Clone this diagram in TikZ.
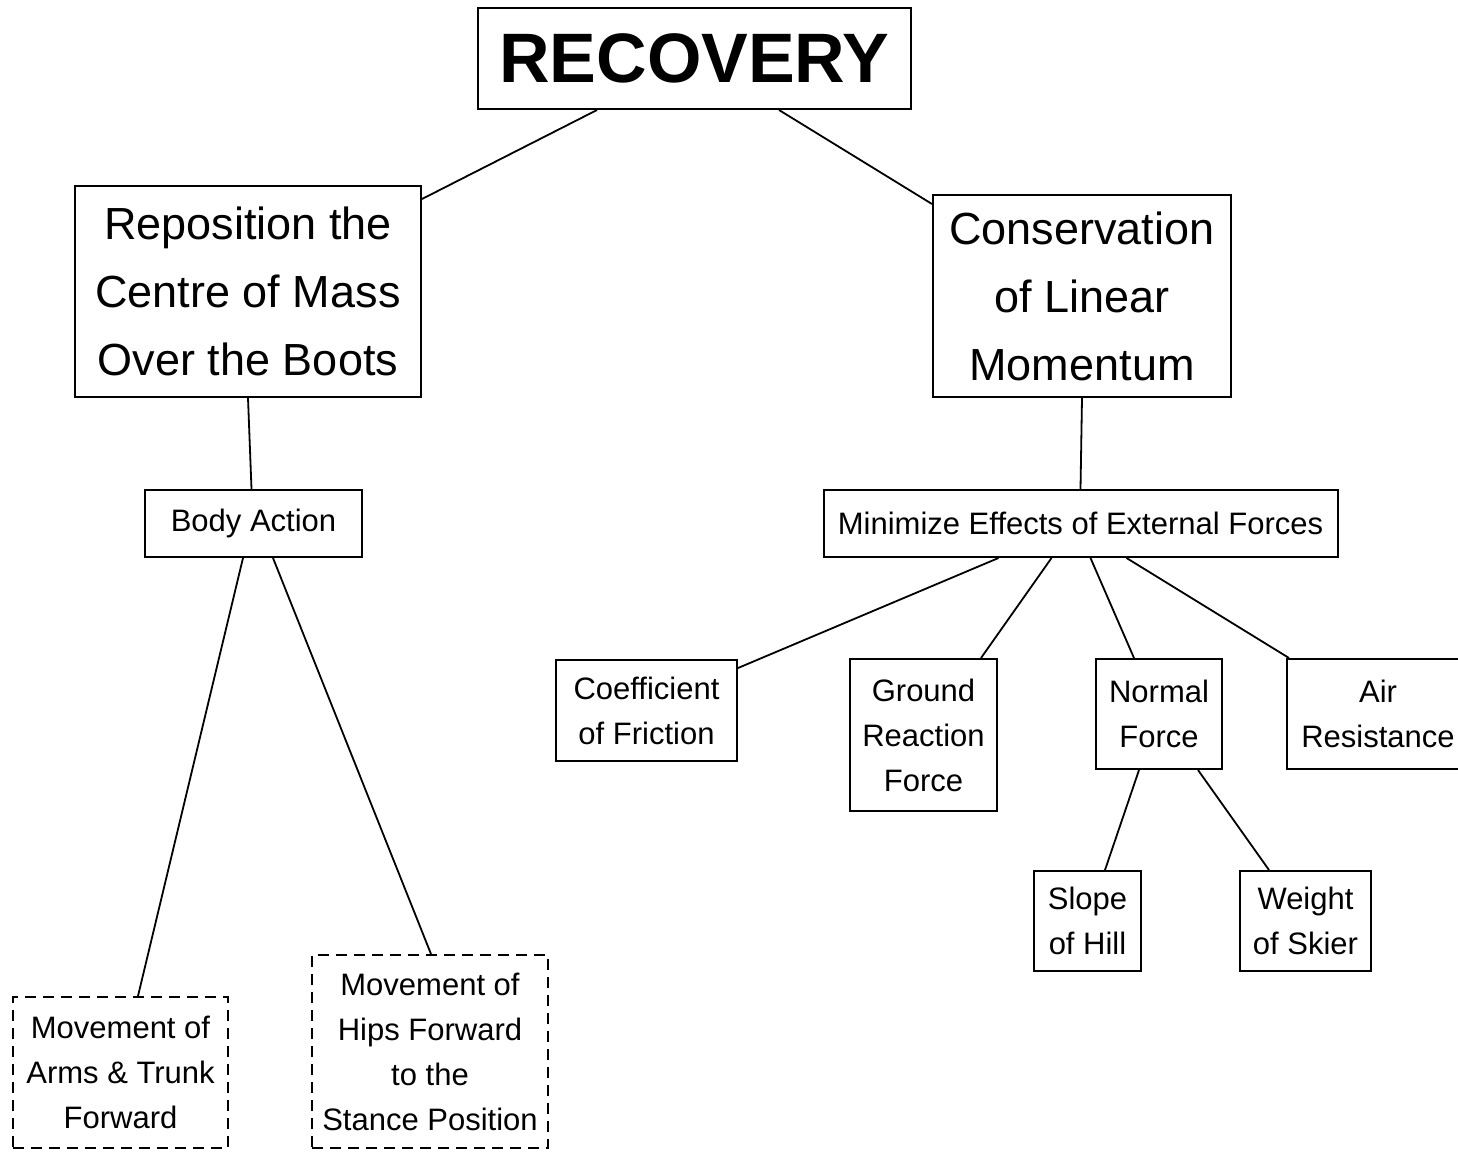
\documentclass[tikz,border=0pt]{standalone}
\usepackage{fontspec}
\setmainfont{Liberation Sans}
\begin{document}
\begin{tikzpicture}[x=1pt,y=-1pt,
  box/.style={draw, line width=2pt, inner sep=0pt, align=center},
  dbox/.style={box, dash pattern=on 11pt off 7pt},
  big/.style={font=\fontsize{45}{68}\selectfont},
  med/.style={font=\fontsize{31}{45}\selectfont},
  link/.style={line width=1.8pt}]
\useasboundingbox (0,0) rectangle (1458,1151);
\clip (0,0) rectangle (1458,1151);

% top node
\node[box, minimum width=433pt, minimum height=101pt,
      font=\fontsize{70}{80}\selectfont\bfseries] (rec) at (694.5,58.5) {RECOVERY};

% second level
\node[box, big, minimum width=346pt, minimum height=211pt] (repo) at (248,291.5)
  {Reposition the\\Centre of Mass\\Over the Boots};
\node[box, big, minimum width=298pt, minimum height=202pt] (cons) at (1082,296)
  {Conservation\\of Linear\\Momentum};

% third level
\node[box, med, minimum width=217pt, minimum height=67pt] (body) at (253.5,523.5) {Body Action};
\node[box, med, minimum width=514pt, minimum height=67pt] (mini) at (1080.5,523.5)
  {Minimize Effects of External Forces};

% factors
\node[box, med, minimum width=181pt, minimum height=101pt] (coef) at (646.5,710.5)
  {Coefficient\\of Friction};
\node[box, med, minimum width=147pt, minimum height=152pt] (ground) at (923.5,735)
  {Ground\\Reaction\\Force};
\node[box, med, minimum width=126pt, minimum height=110pt] (normal) at (1159,714)
  {Normal\\Force};
\node[box, med, minimum width=182pt, minimum height=110pt] (air) at (1378,714)
  {Air\\Resistance};
\node[box, med, minimum width=107pt, minimum height=100pt] (slope) at (1087.5,921)
  {Slope\\of Hill};
\node[box, med, minimum width=131pt, minimum height=100pt] (weight) at (1305.5,921)
  {Weight\\of Skier};

% movements (dashed)
\node[dbox, med, minimum width=215pt, minimum height=151pt] (arms) at (120.5,1072.5)
  {Movement of\\Arms \& Trunk\\Forward};
\node[dbox, med, minimum width=236pt, minimum height=193pt] (hips) at (430,1051.5)
  {Movement of\\Hips Forward\\to the\\Stance Position};

% connectors
\draw[link] ([xshift=120pt]rec.south west) -- ([yshift=-14pt]repo.north east);
\draw[link] ([xshift=-133pt]rec.south east) -- ([yshift=-10pt]cons.north west);
\draw[link] (repo.south) -- ([xshift=-2pt]body.north);
\draw[link] (cons.south) -- (mini.north);
\draw[link] ([xshift=99pt]body.south west) -- ([xshift=126pt]arms.north west);
\draw[link] ([xshift=129pt]body.south west) -- ([xshift=120pt]hips.north west);
\draw[link] ([xshift=176pt]mini.south west) -- ([yshift=-9pt]coef.north east);
\draw[link] ([xshift=229pt]mini.south west) -- ([xshift=-17pt]ground.north east);
\draw[link] ([xshift=268pt]mini.south west) -- ([xshift=39pt]normal.north west);
\draw[link] ([xshift=304pt]mini.south west) -- ([xshift=3pt]air.north west);
\draw[link] ([xshift=44pt]normal.south west) -- ([xshift=72pt]slope.north west);
\draw[link] ([xshift=103pt]normal.south west) -- ([xshift=30pt]weight.north west);
\end{tikzpicture}
\end{document}
